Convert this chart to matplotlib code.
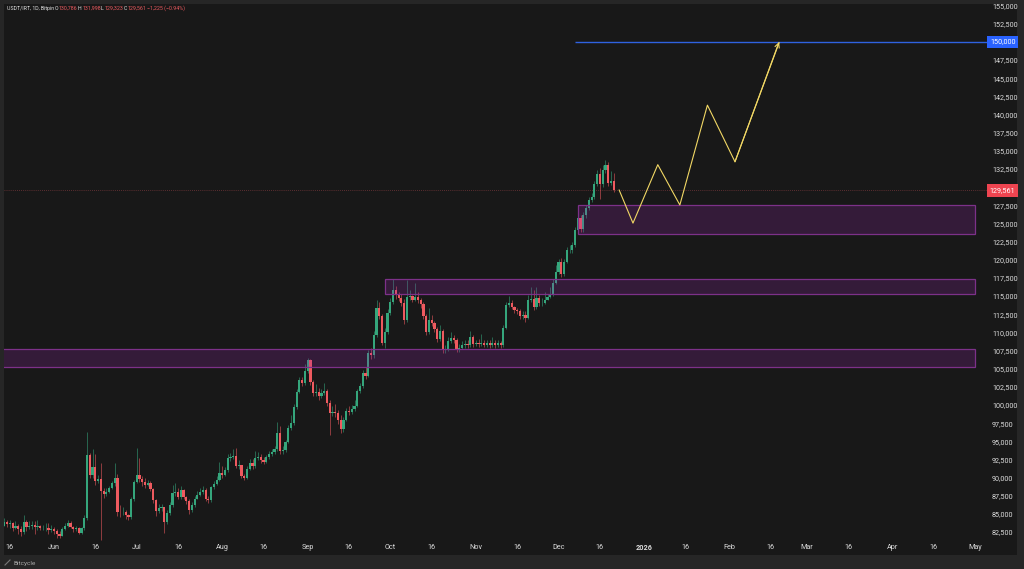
import matplotlib
matplotlib.use('Agg')
import matplotlib.pyplot as plt
import matplotlib.dates as mdates
from matplotlib.lines import Line2D
from matplotlib.patches import Rectangle
import pandas as pd

plt.rcParams['font.family'] = ['Roboto', 'DejaVu Sans']

# daily candles, prices in thousands, May 14 to Dec 22 2025
first_open = 83.4
closes = [
    83.9, 83.6, 83.8, 83.1, 83.4, 82.9, 82.5, 83.9, 83.2, 83.4, 83.5, 83.2, 83.3, 83.0, 83.1, 83.1, 82.8, 82.9,
    82.6, 82.2, 82.0, 82.9, 83.3, 83.7, 83.2, 82.9, 83.0, 82.4, 83.0, 84.4, 93.1, 90.4, 91.4, 89.6, 89.8, 88.2, 87.8, 88.0, 88.5, 89.2, 90.0, 85.3, 85.2, 85.3, 84.8, 84.6, 87.0, 89.4,
    90.4, 89.8, 89.4, 89.0, 89.3, 88.4, 86.9, 85.4, 85.8, 85.9, 83.9, 85.1, 86.2, 87.9, 88.0, 87.3, 88.3, 87.3, 86.8, 85.5, 86.2, 87.1, 87.6, 88.0, 88.3, 87.1, 86.9, 88.7, 89.1, 89.7, 90.6,
    90.4, 91.0, 92.7, 92.8, 93.0, 91.6, 91.7, 90.2, 90.0, 91.2, 92.0, 91.6, 92.7, 92.9, 92.4, 92.2, 92.8, 93.2, 93.5, 93.9, 96.1, 93.6, 93.8, 94.9, 96.8, 97.5, 99.7, 101.8, 103.4, 103.0, 104.7,
    106.2, 103.2, 101.7, 101.8, 101.2, 101.6, 101.9, 100.3, 98.9, 99.0, 98.9, 98.0, 96.7, 98.0, 99.2, 99.0, 99.4, 99.9, 101.9, 102.6, 104.4, 104.0, 107.2, 106.9, 109.6, 113.4, 112.2, 108.6, 110.0, 112.7,
    114.2, 115.8, 115.2, 114.8, 114.1, 111.7, 114.9, 115.0, 114.5, 114.9, 114.4, 113.9, 112.3, 110.1, 111.7, 111.3, 110.5, 109.1, 110.2, 107.6, 107.7, 108.8, 109.2, 108.9, 107.7, 107.9, 108.2, 108.4, 108.2, 109.4, 108.4,
    108.6, 108.4, 108.6, 108.3, 108.5, 108.2, 108.6, 108.3, 108.5, 108.2, 110.6, 113.8, 114.1, 113.5, 113.1, 112.9, 112.3, 112.4, 112.0, 114.5, 114.6, 113.5, 114.7, 114.0, 114.1, 114.5, 114.9, 115.2, 116.8, 118.3,
    119.7, 118.0, 119.7, 121.3, 121.4, 122.0, 124.1, 125.8, 124.2, 126.2, 127.1, 128.3, 128.6, 130.4, 131.8, 130.4, 132.4, 133.1, 130.6, 130.786, 129.561,
]
highs = [
    84.5, 84.2, 84.2, 83.9, 84.0, 83.6, 83.4, 84.8, 84.1, 84.0, 84.0, 84.0, 84.1, 83.5, 83.5, 83.7, 83.7, 83.5,
    83.2, 82.9, 82.6, 83.2, 83.7, 84.1, 84.0, 83.4, 83.3, 83.2, 83.2, 84.8, 96.3, 93.4, 94.0, 93.3, 90.3, 92.0, 88.6, 88.5, 88.9, 89.6, 92.0, 90.5, 86.2, 85.9, 85.6, 85.0, 87.3, 89.7,
    94.1, 92.7, 90.2, 89.9, 89.7, 89.5, 88.6, 87.0, 86.3, 86.4, 86.0, 85.6, 86.6, 89.0, 89.2, 88.6, 88.8, 88.4, 87.5, 87.0, 86.6, 87.5, 88.2, 88.6, 88.9, 88.5, 87.4, 88.9, 89.5, 90.2, 92.2,
    91.6, 91.5, 93.2, 93.4, 94.0, 94.1, 92.4, 91.8, 90.5, 91.6, 92.6, 92.5, 93.6, 93.5, 93.2, 92.8, 93.1, 93.7, 93.9, 94.3, 97.6, 97.1, 94.4, 95.2, 97.2, 98.6, 100.2, 102.2, 103.9, 103.9, 105.6,
    106.5, 106.4, 103.5, 102.9, 102.4, 102.2, 103.0, 102.2, 100.7, 99.8, 100.2, 99.3, 98.6, 98.4, 99.6, 99.8, 100.0, 100.7, 102.2, 103.0, 104.8, 105.3, 107.6, 107.8, 110.2, 114.4, 114.2, 112.5, 110.6, 113.2,
    114.8, 117.3, 116.4, 115.6, 115.3, 114.6, 117.2, 115.8, 115.2, 116.8, 115.5, 114.7, 114.2, 112.5, 113.3, 112.4, 111.6, 110.8, 111.0, 110.4, 108.2, 109.4, 110.0, 109.7, 109.2, 108.4, 108.8, 108.9, 109.0, 110.2, 109.6,
    109.0, 109.1, 109.8, 108.9, 109.0, 108.9, 109.4, 108.9, 108.9, 108.8, 111.0, 114.2, 115.0, 114.5, 113.7, 113.4, 113.2, 113.0, 112.9, 115.2, 116.2, 115.8, 116.3, 115.2, 114.8, 115.6, 115.3, 116.3, 117.3, 119.3,
    120.1, 120.2, 120.1, 121.7, 122.0, 122.4, 124.5, 126.2, 126.2, 126.6, 127.5, 128.7, 129.2, 130.8, 132.4, 132.6, 133.0, 133.8, 133.4, 132.2, 131.998,
]
lows = [
    83.3, 83.2, 83.1, 82.7, 82.9, 82.3, 82.0, 82.3, 82.6, 82.9, 82.9, 82.3, 82.8, 82.8, 82.8, 82.7, 82.2, 82.5,
    82.2, 81.7, 81.7, 81.9, 82.8, 83.2, 83.0, 82.5, 82.6, 82.2, 82.2, 82.8, 84.2, 90.0, 90.0, 89.0, 89.2, 81.4, 87.2, 87.5, 87.9, 88.4, 88.9, 84.7, 84.6, 84.8, 84.3, 84.2, 84.3, 86.8,
    89.2, 89.4, 88.9, 88.6, 88.8, 88.1, 86.5, 84.7, 85.1, 85.4, 82.4, 83.6, 84.9, 86.0, 87.5, 87.0, 87.1, 87.0, 86.4, 85.0, 85.3, 86.0, 87.0, 87.4, 87.8, 86.8, 86.5, 86.7, 88.4, 89.0, 89.5,
    90.0, 90.2, 90.8, 92.3, 92.5, 91.3, 91.2, 90.0, 89.7, 89.8, 91.0, 91.2, 91.3, 92.4, 92.0, 91.9, 92.0, 92.6, 93.0, 93.2, 93.7, 93.2, 93.2, 93.5, 94.7, 96.5, 97.2, 99.4, 101.6, 102.6, 102.8,
    104.4, 102.8, 101.3, 101.2, 100.7, 101.0, 101.4, 99.9, 95.9, 98.5, 98.4, 97.4, 96.2, 96.3, 97.8, 98.6, 98.8, 99.2, 99.7, 101.7, 102.4, 103.6, 103.8, 106.4, 106.5, 109.4, 111.8, 108.2, 107.8, 109.8,
    112.4, 113.9, 114.6, 114.3, 113.7, 111.2, 111.5, 114.5, 114.2, 114.3, 114.0, 113.4, 111.8, 109.7, 109.8, 110.9, 110.1, 108.7, 108.8, 107.2, 107.1, 107.4, 108.5, 108.5, 107.3, 107.3, 107.7, 107.9, 107.8, 108.0, 108.0,
    108.1, 108.0, 108.1, 108.0, 108.0, 107.9, 108.0, 107.9, 108.0, 107.8, 108.0, 110.4, 113.5, 113.2, 112.7, 112.5, 111.8, 111.9, 111.5, 111.9, 114.2, 113.1, 113.2, 113.6, 113.7, 113.9, 114.4, 114.7, 115.0, 116.6,
    118.0, 117.6, 117.8, 119.5, 121.0, 121.0, 121.8, 123.8, 123.8, 123.8, 125.8, 126.9, 128.0, 128.4, 130.2, 128.4, 130.0, 131.9, 130.2, 130.3, 129.323,
]
opens = [first_open] + closes[:-1]

# drawn zones, prices in thousands
zone_starts = ['2025-05-01', '2025-09-29', '2025-12-08']
zone_ends = ['2026-05-01', '2026-05-01', '2026-05-01']
zone_tops = [107.7, 117.35, 127.5]
zone_bottoms = [105.2, 115.3, 123.55]

# yellow projection
path_dates = ['2025-12-23', '2025-12-28', '2026-01-06', '2026-01-14', '2026-01-24', '2026-02-03', '2026-02-19']
path_prices = [129.6, 125.05, 133.1, 127.55, 141.3, 133.5, 149.9]

target_start = '2025-12-07'
target_price = 150.0
last_price = 129.561

tick_dates = ['2025-05-16', '2025-06-01', '2025-06-16', '2025-07-01', '2025-07-16', '2025-08-01', '2025-08-16',
              '2025-09-01', '2025-09-16', '2025-10-01', '2025-10-16', '2025-11-01', '2025-11-16', '2025-12-01',
              '2025-12-16', '2026-01-01', '2026-01-16', '2026-02-01', '2026-02-16', '2026-03-01', '2026-03-16',
              '2026-04-01', '2026-04-16', '2026-05-01']
tick_labels = ['16', 'Jun', '16', 'Jul', '16', 'Aug', '16', 'Sep', '16', 'Oct', '16', 'Nov', '16', 'Dec',
               '16', '2026', '16', 'Feb', '16', 'Mar', '16', 'Apr', '16', 'May']
price_ticks = [82.5 + 2.5 * i for i in range(30)]

UP = '#35a67c'
DOWN = '#ee5a5f'
PANE = '#181818'
TEXT = '#dcdcdc'


def num(d):
    return mdates.date2num(pd.Timestamp(d))


fig = plt.figure(figsize=(10.24, 5.69), dpi=100, facecolor='#262626')
ax = fig.add_axes([4 / 1024, 14 / 569, 1013 / 1024, 551 / 569], facecolor=PANE)

days = mdates.date2num(pd.date_range('2025-05-14', periods=len(closes)))
colors = [UP if c >= o else DOWN for o, c in zip(opens, closes)]

ax.vlines(days, lows, highs, colors=colors, linewidth=0.55, alpha=0.7, zorder=2)
ax.bar(days, [abs(c - o) for o, c in zip(opens, closes)], bottom=[min(o, c) for o, c in zip(opens, closes)],
       width=0.8, color=colors, linewidth=0, zorder=3)

for start, end, top, bottom in zip(zone_starts, zone_ends, zone_tops, zone_bottoms):
    ax.add_patch(Rectangle((num(start), bottom), num(end) - num(start), top - bottom, facecolor='#9c27b0',
                           alpha=0.22, linewidth=0, zorder=4))
    ax.add_patch(Rectangle((num(start), bottom), num(end) - num(start), top - bottom, facecolor='none',
                           edgecolor='#7d3189', linewidth=0.9, zorder=4))

jun1 = num('2025-06-01')
ax.set_xlim(jun1 + (4 - 54) / 2.757, jun1 + (1017 - 54) / 2.757)
ax.set_ylim(79.34, 155.23)

ax.axhline(last_price, color='#733539', linewidth=0.6, linestyle=(0, (1, 1.5)), zorder=1)
ax.hlines(target_price, num(target_start), ax.get_xlim()[1], color='#2f62e0', linewidth=1.0, zorder=5)

path_x = [num(d) for d in path_dates]
ax.plot(path_x, path_prices, color='#f2d865', linewidth=0.8, zorder=6)
ax.annotate('', xy=(path_x[-1], path_prices[-1] + 0.1), xytext=(path_x[-2], path_prices[-2]),
            arrowprops=dict(arrowstyle='->', color='#f2d865', linewidth=0.8, mutation_scale=8,
                            shrinkA=0, shrinkB=0), zorder=6)

ax.set_yticks(price_ticks)
ax.set_yticklabels([f'{p * 1000:,.0f}' for p in price_ticks])
ax.yaxis.tick_right()
ax.tick_params(axis='y', length=0, pad=-18, labelsize=5.2, labelcolor=TEXT)
ax.set_xticks([num(d) for d in tick_dates])
ax.set_xticklabels(tick_labels)
ax.tick_params(axis='x', length=0, pad=-8, labelsize=5.2, labelcolor=TEXT)
for lab in ax.get_xticklabels():
    if lab.get_text() == '2026':
        lab.set_fontweight('bold')
for s in ax.spines.values():
    s.set_visible(False)

tags = [(target_price, '#2962ff'), (last_price, '#ee4450')]
for price, col in tags:
    ax.text(0.9985, price, f'{price * 1000:,.0f}', transform=ax.get_yaxis_transform(), ha='right', va='center',
            fontsize=5.2, color='white', zorder=8,
            bbox=dict(boxstyle='square,pad=0.4', facecolor=col, edgecolor='none'))

# legend line at the top
header = [(7, 'USDT/IRT, 1D, Bitpin', '#e0e0e0'), (54.5, 'O', '#e0e0e0'), (58.5, '130,786', DOWN), (78, 'H', '#e0e0e0'),
          (82.5, '131,998', DOWN), (101, 'L', '#e0e0e0'), (104.5, '129,323', DOWN), (123.5, 'C', '#e0e0e0'),
          (128, '129,561', DOWN), (147, '\u22121,225 (\u22120.94%)', DOWN)]
for px, txt, col in header:
    fig.text(px / 1024, 1 - 8.5 / 569, txt, fontsize=3.8, color=col, va='center', ha='left')

fig.add_artist(Line2D([5 / 1024, 10 / 1024], [1 - 565 / 569, 1 - 560 / 569], color='#777777', linewidth=0.8))
fig.text(13 / 1024, 1 - 563 / 569, 'Bitcycle', fontsize=4.6, color='#a8a8a8', va='center', ha='left')

fig.savefig('out.png', dpi=100, facecolor=fig.get_facecolor())
plt.close(fig)
